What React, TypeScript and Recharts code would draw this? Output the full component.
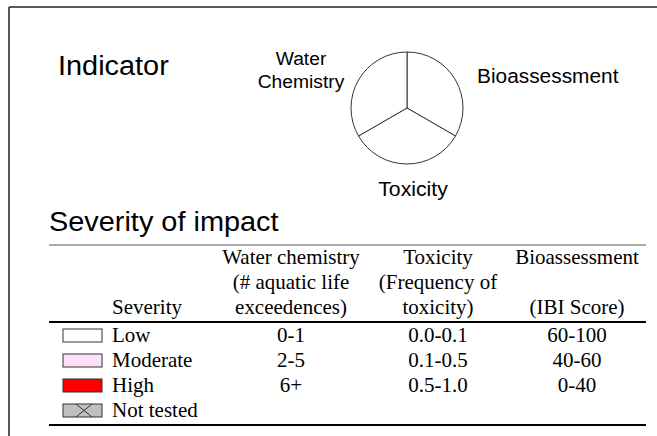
import { PieChart, Pie, Cell } from 'recharts';

// indicator wheel: three equal slices, clockwise from 12 o'clock
const indicators = ['Bioassessment', 'Toxicity', 'Water Chemistry'];
const indicatorShares = [1, 1, 1];

// severity legend table
const severityLevels = ['Low', 'Moderate', 'High', 'Not tested'];
const waterChemistryRanges = ['0-1', '2-5', '6+', ''];
const toxicityRanges = ['0.0-0.1', '0.1-0.5', '0.5-1.0', ''];
const bioassessmentRanges = ['60-100', '40-60', '0-40', ''];
const headerSeverity = ['', '', 'Severity'];
const headerWater = ['Water chemistry', '(# aquatic life', 'exceedences)'];
const headerToxicity = ['Toxicity', '(Frequency of', 'toxicity)'];
const headerBio = ['Bioassessment', '', '(IBI Score)'];

const swatchFill: Record<string, string> = {
  Low: '#ffffff',
  Moderate: '#ffe0fa',
  High: '#ff0000',
  'Not tested': '#c0c0c0',
};

const SANS = '"Liberation Sans", Arial, sans-serif';
const SERIF = '"Liberation Serif", "Times New Roman", serif';

const pieData = indicators.map((name, i) => ({ name, value: indicatorShares[i] }));

// the source art is a bit stretched sideways, so text gets a small x scale
const T = ({ x, y, sx = 1.07, anchor = 'start', family = SANS, size = 19, children }: any) => (
  <text
    transform={`translate(${x},${y}) scale(${sx},1)`}
    textAnchor={anchor}
    fontFamily={family}
    fontSize={size}
    fill="#000"
  >
    {children}
  </text>
);

export default function App() {
  const headerBase = [264, 289, 314];
  const rowBase = [342, 367, 392, 417];
  const colX = [291, 438, 577];
  const serif = { family: SERIF, size: 20, sx: 1.05 };

  return (
    <div style={{ position: 'absolute', left: 0, top: 0, width: 657, height: 436, background: '#fff' }}>
      <PieChart width={657} height={436} margin={{ top: 0, right: 0, bottom: 0, left: 0 }}>
        <Pie
          data={pieData}
          dataKey="value"
          nameKey="name"
          cx={407}
          cy={108}
          outerRadius={56}
          startAngle={90}
          endAngle={-270}
          stroke="#333"
          strokeWidth={1}
          isAnimationActive={false}
        >
          {pieData.map((d) => (
            <Cell key={d.name} fill="#ffffff" />
          ))}
        </Pie>
      </PieChart>

      <svg width={657} height={436} style={{ position: 'absolute', left: 0, top: 0, pointerEvents: 'none' }}>
        {/* frame */}
        <line x1={9} y1={7} x2={657} y2={7} stroke="#222" strokeWidth={1.5} />
        <line x1={9} y1={7} x2={9} y2={436} stroke="#222" strokeWidth={1.5} />

        <T x={58} y={75} size={27}>Indicator</T>

        {/* wheel labels */}
        <T x={301} y={65} anchor="middle" size={18}>Water</T>
        <T x={301} y={88} anchor="middle" size={18}>Chemistry</T>
        <T x={477} y={83} size={19.5}>Bioassessment</T>
        <T x={413} y={196} anchor="middle" size={19.5} sx={1.09}>Toxicity</T>

        <T x={49} y={231} size={27}>Severity of impact</T>

        {/* table rules */}
        <line x1={49} y1={245} x2={646} y2={245} stroke="#555" strokeWidth={1} />
        <line x1={49} y1={322} x2={646} y2={322} stroke="#000" strokeWidth={2} />
        <line x1={49} y1={425} x2={646} y2={425} stroke="#000" strokeWidth={2} />

        {headerBase.map((y, i) => (
          <g key={'h' + i}>
            {headerSeverity[i] && <T x={112} y={y} {...serif}>{headerSeverity[i]}</T>}
            <T x={colX[0]} y={y} anchor="middle" {...serif}>{headerWater[i]}</T>
            <T x={colX[1]} y={y} anchor="middle" {...serif}>{headerToxicity[i]}</T>
            {headerBio[i] && <T x={colX[2]} y={y} anchor="middle" {...serif}>{headerBio[i]}</T>}
          </g>
        ))}

        {severityLevels.map((lvl, i) => {
          const y = rowBase[i];
          return (
            <g key={lvl}>
              <rect x={63} y={y - 13} width={39} height={13} fill={swatchFill[lvl]} stroke="#333" strokeWidth={1} />
              {lvl === 'Not tested' && (
                <g stroke="#333" strokeWidth={1}>
                  <line x1={76} y1={y - 13} x2={92} y2={y} />
                  <line x1={76} y1={y} x2={92} y2={y - 13} />
                </g>
              )}
              <T x={112} y={y} {...serif}>{lvl}</T>
              <T x={colX[0]} y={y} anchor="middle" {...serif}>{waterChemistryRanges[i]}</T>
              <T x={colX[1]} y={y} anchor="middle" {...serif}>{toxicityRanges[i]}</T>
              <T x={colX[2]} y={y} anchor="middle" {...serif}>{bioassessmentRanges[i]}</T>
            </g>
          );
        })}
      </svg>
    </div>
  );
}
